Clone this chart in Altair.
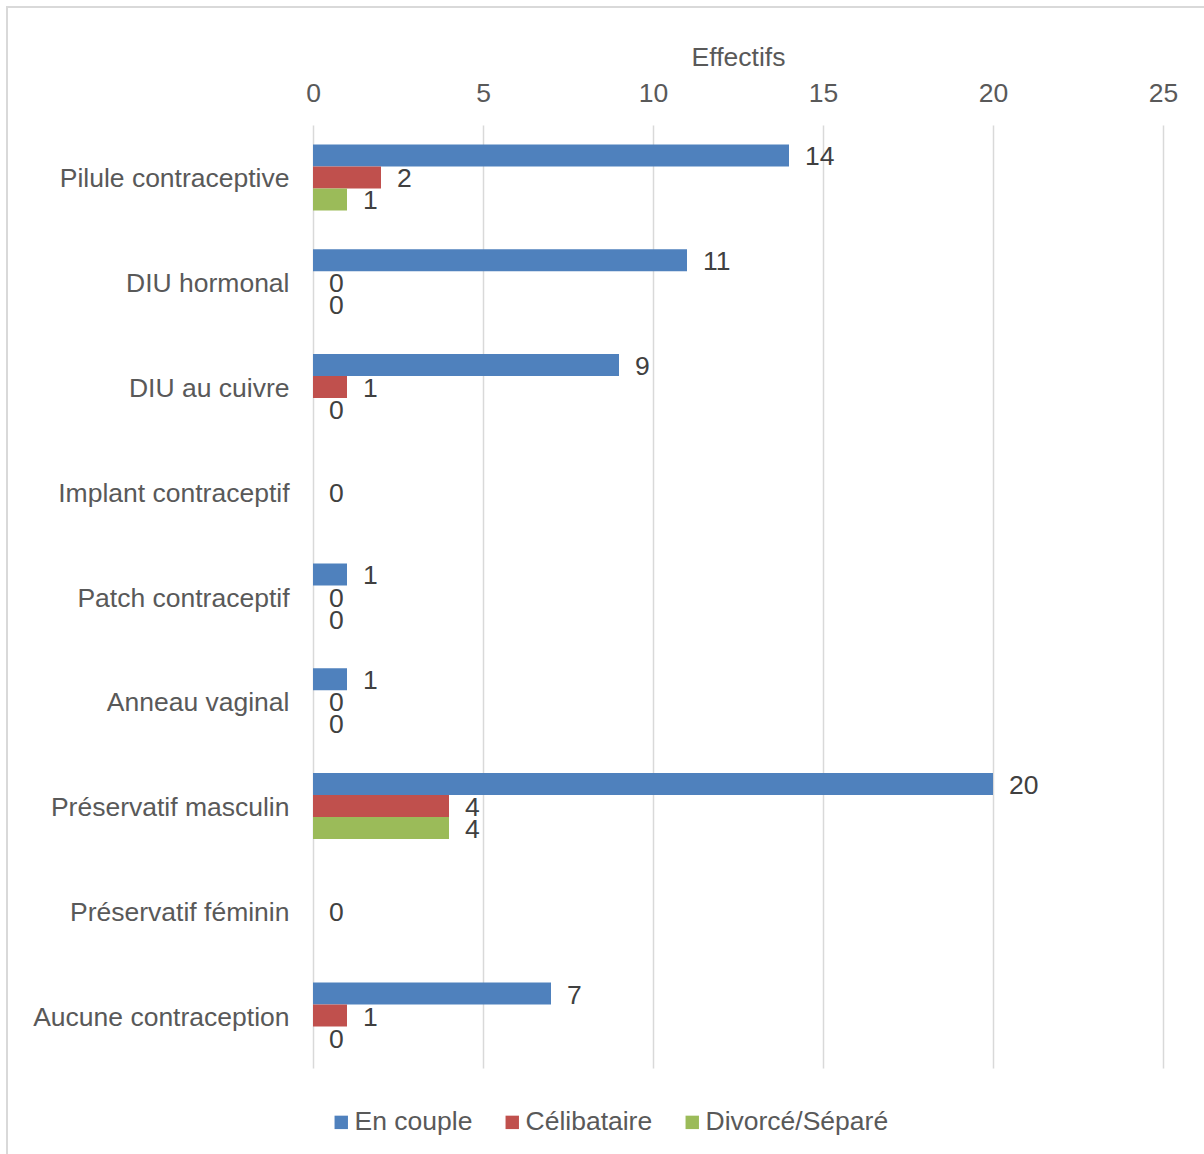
import altair as alt
import pandas as pd

categories = [
    "Pilule contraceptive", "DIU hormonal", "DIU au cuivre", "Implant contraceptif",
    "Patch contraceptif", "Anneau vaginal", "Préservatif masculin",
    "Préservatif féminin", "Aucune contraception",
]
series = ["En couple", "Célibataire", "Divorcé/Séparé"]
en_couple = [14, 11, 9, None, 1, 1, 20, None, 7]
celibataire = [2, 0, 1, 0, 0, 0, 4, 0, 1]
divorce = [1, 0, 0, None, 0, 0, 4, None, 0]
colors = ["#4F81BD", "#C0504D", "#9BBB59"]
x_ticks = [0, 5, 10, 15, 20, 25]

rows = []
for s, vals in zip(series, [en_couple, celibataire, divorce]):
    for c, v in zip(categories, vals):
        if v is not None:
            rows.append({"cat": c, "serie": s, "val": v})
df = pd.DataFrame(rows)

FONT = "Liberation Sans"
FS = 26.5
TXT = "#595959"

y_enc = alt.Y("cat:N", sort=categories,
              scale=alt.Scale(paddingInner=0.37, paddingOuter=0.185),
              axis=alt.Axis(title=None, domain=False, ticks=False, labelPadding=24,
                            labelOffset=2,
                            labelFontSize=FS, labelColor=TXT, labelFont=FONT,
                            labelLimit=400))
yoff = alt.YOffset("serie:N", sort=series, scale=alt.Scale(paddingInner=0, paddingOuter=0))
x_enc = alt.X("val:Q", scale=alt.Scale(domain=[0, 25], nice=False),
              axis=alt.Axis(orient="top", title="Effectifs", values=x_ticks, grid=True,
                            gridColor="#d9d9d9", gridWidth=1.5, domain=False, ticks=False,
                            labelFlush=False,
                            labelPadding=18, labelFontSize=FS, labelColor=TXT, labelFont=FONT,
                            titleFontSize=FS, titleFontWeight="normal", titleColor=TXT,
                            titleFont=FONT, titlePadding=9))

base = alt.Chart(df)
bars = base.mark_bar().encode(
    x=x_enc, y=y_enc, yOffset=yoff,
    color=alt.Color("serie:N", sort=series,
                    scale=alt.Scale(domain=series, range=colors),
                    legend=alt.Legend(title=None, orient="none", legendX=15, legendY=984,
                                      direction="horizontal", symbolType="square",
                                      symbolSize=180, symbolStrokeWidth=0,
                                      labelFontSize=FS, labelColor=TXT, labelFont=FONT,
                                      labelLimit=400,
                                      labelOffset=0, columnPadding=26, padding=0)),
)
labels = base.mark_text(align="left", baseline="middle", dx=16, dy=2, fontSize=FS,
                        font=FONT, color="#404040").encode(
    x="val:Q", y=alt.Y("cat:N", sort=categories), yOffset=yoff, text="val:Q")

border = alt.Chart(alt.Data(values=[{"a": 1}])).mark_rect(
    fill="transparent", stroke="#d9d9d9", strokeWidth=2).encode(
    x=alt.value(-306), x2=alt.value(900), y=alt.value(-118), y2=alt.value(1040))

chart = alt.layer(border, bars, labels).properties(
    width=850, height=943,
    autosize=alt.AutoSizeParams(type="none"),
    padding={"left": 313, "top": 125, "right": 41, "bottom": 86},
    background="white",
).configure_view(stroke=None)

chart.save("out.html", embed_options={"renderer": "svg", "actions": False})
